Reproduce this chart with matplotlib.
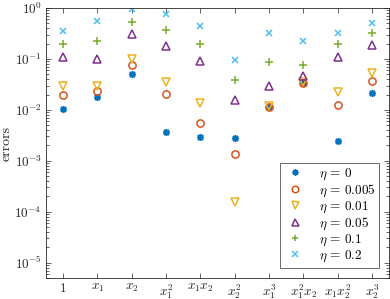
import numpy as np
import matplotlib
matplotlib.use('Agg')
import matplotlib.pyplot as plt
from matplotlib.ticker import LogLocator, NullFormatter

plt.rcParams['mathtext.fontset'] = 'cm'
plt.rcParams['font.family'] = 'serif'
plt.rcParams['font.serif'] = ['cmr10', 'DejaVu Serif']
plt.rcParams['axes.formatter.use_mathtext'] = True

# monomials on the x axis
terms = [r'$1$', r'$x_1$', r'$x_2$', r'$x_1^2$', r'$x_1x_2$', r'$x_2^2$',
         r'$x_1^3$', r'$x_1^2x_2$', r'$x_1x_2^2$', r'$x_2^3$']

eta_labels = [r'$\eta\,=\,0$', r'$\eta\,=\,0.005$', r'$\eta\,=\,0.01$',
              r'$\eta\,=\,0.05$', r'$\eta\,=\,0.1$', r'$\eta\,=\,0.2$']

# errors, one list per noise level
err_0 = [0.0106, 0.018, 0.051, 0.0037, 0.0029, 0.0028, 0.0112, 0.033, 0.0025, 0.0215]
err_0005 = [0.0196, 0.023, 0.076, 0.0203, 0.0056, 0.00133, 0.0114, 0.033, 0.0125, 0.037]
err_001 = [0.029, 0.029, 0.1, 0.036, 0.0139, 0.000155, 0.0117, 0.0345, 0.022, 0.052]
err_005 = [0.107, 0.099, 0.31, 0.18, 0.093, 0.0158, 0.029, 0.046, 0.108, 0.185]
err_01 = [0.2, 0.22, 0.54, 0.37, 0.197, 0.039, 0.087, 0.076, 0.197, 0.32]
err_02 = [0.35, 0.56, 0.97, 0.76, 0.44, 0.096, 0.32, 0.23, 0.33, 0.51]

series = [err_0, err_0005, err_001, err_005, err_01, err_02]
markers = [(8, 2, 0), 'o', 'v', '^', '+', 'x']
colors = ['#0072BD', '#D95319', '#EDB120', '#7E2F8E', '#77AC30', '#4DBEEE']
sizes = [5, 5.2, 5.6, 5.6, 5.2, 4.2]

fig = plt.figure(figsize=(3.9, 2.99), dpi=100)
ax = fig.add_axes([46/390, 21/299, 343/390, 270/299])

x = np.arange(1, len(terms) + 1)
for y, m, c, s, lab in zip(series, markers, colors, sizes, eta_labels):
    ax.plot(x, y, linestyle='none', marker=m, color=c, markersize=s,
            markerfacecolor='none' if m in ('o', 'v', '^') else c,
            markeredgewidth=1.1, label=lab)

ax.set_yscale('log')
ax.set_ylim(5e-6, 1)
ax.set_xlim(0.5, 10.5)
ax.set_xticks(x)
ax.set_xticklabels(terms)
ax.yaxis.set_major_locator(LogLocator(base=10, numticks=10))
ax.yaxis.set_minor_locator(LogLocator(base=10, subs=np.arange(2, 10), numticks=20))
ax.yaxis.set_minor_formatter(NullFormatter())

axcol = '#262626'
for sp in ax.spines.values():
    sp.set_color(axcol)
    sp.set_linewidth(0.6)
ax.tick_params(which='both', direction='in', top=True, right=True,
               colors=axcol, labelsize=9.5, width=0.5)
ax.tick_params(which='major', length=3.5, pad=3)
ax.tick_params(which='minor', length=2)
ax.tick_params(axis='x', which='minor', top=False, bottom=False)

ax.set_ylabel('errors', fontsize=10, color=axcol, labelpad=1)

leg = ax.legend(loc='lower right', fontsize=9.5, frameon=True, fancybox=False,
                edgecolor=axcol, borderpad=0.3, labelspacing=0.05,
                handlelength=1.6, handletextpad=1.0, borderaxespad=0.75,
                markerscale=0.9)
leg.get_frame().set_linewidth(0.6)

fig.savefig('out.png', dpi=100)
